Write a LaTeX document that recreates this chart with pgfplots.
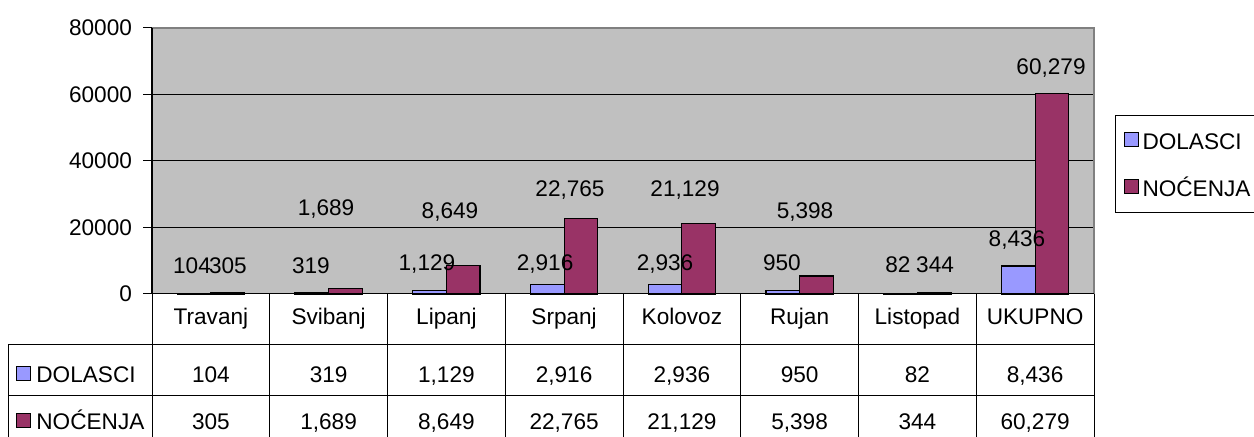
\documentclass[border=0pt]{standalone}
\usepackage{pgfplots}
\pgfplotsset{compat=1.18}
\usepackage{fontspec}
\setmainfont{Liberation Sans}
\definecolor{dol}{HTML}{9999FF}
\definecolor{noc}{HTML}{993366}
\definecolor{bgc}{HTML}{C0C0C0}
\definecolor{framec}{HTML}{808080}
\newcommand{\fs}{\fontsize{11.3}{13}\selectfont}
\pgfplotstableread{
x y lab
-0.160 8722 104
0.145 8722 305
0.850 8722 319
0.978 26165 1,689
1.835 9624 1,129
2.031 25263 8,649
2.838 9624 2,916
3.050 31880 22,765
3.857 9624 2,936
4.027 31880 21,129
4.850 9624 950
5.046 25263 5,398
5.835 9023 82
6.150 9023 344
6.846 16842 8,436
7.135 68571 60,279
}\labtab
\begin{document}
\begin{tikzpicture}[every node/.style={font=\fs}]
\useasboundingbox (0pt,0pt) rectangle (627pt,218.5pt);
\clip (0pt,0pt) rectangle (627pt,218.5pt);
\begin{axis}[
  at={(76pt,71.5pt)}, anchor=south west,
  scale only axis, width=471pt, height=133pt,
  xmin=-0.5, xmax=7.5, ymin=0, ymax=80000,
  xtick=\empty,
  ytick={0,20000,40000,60000,80000},
  ytick pos=left,
  scaled y ticks=false,
  y tick label style={/pgf/number format/fixed, /pgf/number format/1000 sep={}, xshift=-2pt},
  /pgf/number format/assume math mode=true,
  tick label style={font=\fs},
  ymajorgrids, grid style={black, line width=0.5pt},
  axis line style={draw=none},
  axis background/.style={fill=bgc},
  tick align=outside, major tick length=4.5pt,
  ytick style={black, line width=0.5pt},
  clip=false,
  legend style={at={(1.0223,0.6729)}, anchor=north west, draw=black, line width=0.5pt, fill=white,
    font=\fs, inner xsep=4pt, inner ysep=8.2pt, row sep=14.9pt, column sep=2pt,
    nodes={inner sep=0pt, text height=8.1pt, text depth=0pt}},
  legend cell align=left,
  legend image code/.code={\draw[#1, line width=0.5pt] (0pt,-2.6pt) rectangle (7pt,4.4pt);},
]
\addplot[ybar, bar width=16.8pt, bar shift=-8.4pt, fill=dol, draw=black, line width=0.6pt]
  coordinates {(0,104) (1,319) (2,1129) (3,2916) (4,2936) (5,950) (6,82) (7,8436)};
\addplot[ybar, bar width=16.8pt, bar shift=8.4pt, fill=noc, draw=black, line width=0.6pt]
  coordinates {(0,305) (1,1689) (2,8649) (3,22765) (4,21129) (5,5398) (6,344) (7,60279)};
\legend{DOLASCI,NOĆENJA}
\addplot[only marks, mark=none, forget plot, nodes near coords, point meta=explicit symbolic,
  every node near coord/.style={anchor=base, yshift=-4.1pt, inner sep=0pt, font=\fs}]
  table[x=x, y=y, meta=lab] {\labtab};
\end{axis}
\begin{scope}[x=0.5pt,y=0.5pt]
% frame of plot area
\draw[framec, line width=0.6pt] (152,409) -- (1094,409) -- (1094,143);
\draw[black, line width=0.6pt] (152,409) -- (152,143);
% data table
\draw[black, line width=0.5pt] (152,143) -- (1094,143);
\draw[black, line width=0.5pt] (8,92) -- (1094,92);
\draw[black, line width=0.5pt] (8,41) -- (1094,41);
\draw[black, line width=0.5pt] (8,92) -- (8,-10);
\foreach \xx in {152,269.75,387.5,505.25,623,740.75,858.5,976.25,1094}
  \draw[black, line width=0.5pt] (\xx,143) -- (\xx,-10);
\foreach \xx/\t in {210.9/Travanj,328.6/Svibanj,446.4/Lipanj,564.1/Srpanj,681.9/Kolovoz,799.6/Rujan,917.4/Listopad,1035.1/UKUPNO}
  \node[anchor=base, inner sep=0pt] at (\xx,112) {\t};
\foreach \xx/\t in {210.9/104,328.6/319,446.4/{1,129},564.1/{2,916},681.9/{2,936},799.6/950,917.4/82,1035.1/{8,436}}
  \node[anchor=base, inner sep=0pt] at (\xx,54) {\t};
\foreach \xx/\t in {210.9/305,328.6/{1,689},446.4/{8,649},564.1/{22,765},681.9/{21,129},799.6/{5,398},917.4/344,1035.1/{60,279}}
  \node[anchor=base, inner sep=0pt] at (\xx,7) {\t};
\draw[black, line width=0.5pt, fill=dol] (16,56) rectangle (30,70);
\node[anchor=base west, inner sep=0pt] at (36,54) {DOLASCI};
\draw[black, line width=0.5pt, fill=noc] (16,9) rectangle (30,23);
\node[anchor=base west, inner sep=0pt] at (36,7) {NOĆENJA};
\end{scope}
\end{tikzpicture}
\end{document}
